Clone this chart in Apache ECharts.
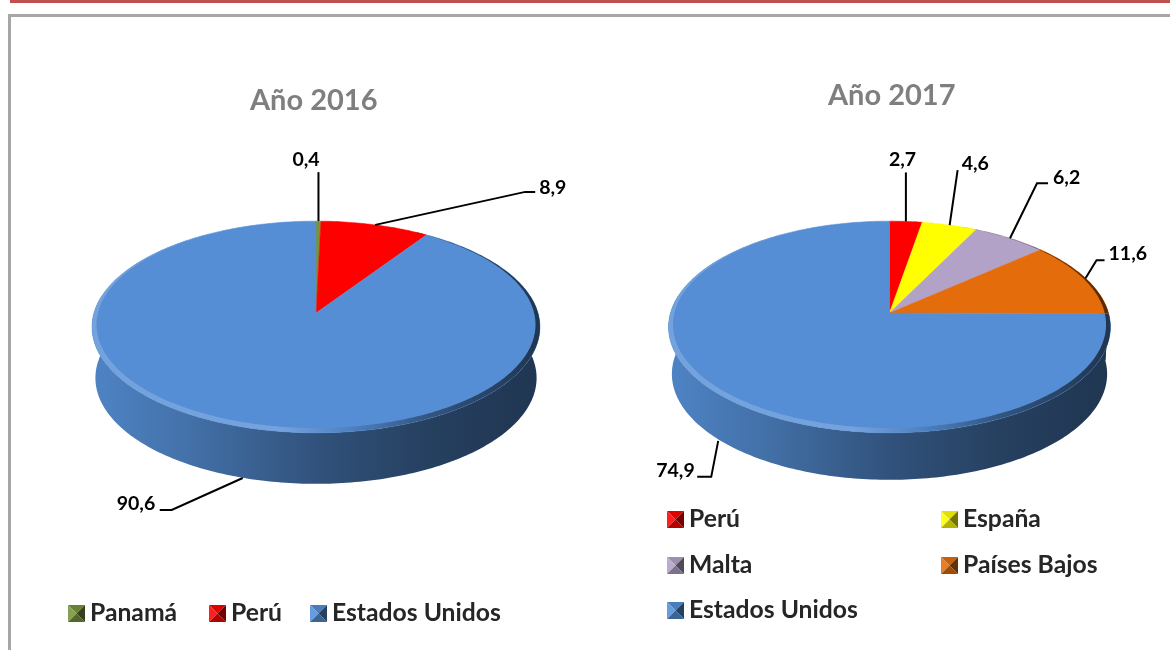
<!DOCTYPE html>
<html>
<head>
<meta charset="utf-8">
<title>Año 2016 / Año 2017</title>
<style>
html,body{margin:0;padding:0;background:#fff;}
#main{width:1170px;height:650px;}
</style>
<script src="https://cdn.jsdelivr.net/npm/echarts@6/dist/echarts.min.js"></script>
</head>
<body>
<div id="main"></div>
<script>
// data
var cats2016 = ['Panamá', 'Perú', 'Estados Unidos'];
var vals2016 = [0.4, 8.9, 90.6];
var cats2017 = ['Perú', 'España', 'Malta', 'Países Bajos', 'Estados Unidos'];
var vals2017 = [2.7, 4.6, 6.2, 11.6, 74.9];

var colors2016 = ['#77933C', '#FF0000', '#558ED5'];
var colors2017 = ['#FF0000', '#FFFF00', '#B3A2C7', '#E46C0A', '#558ED5'];

// pie geometry: apex of the slices, half width, perspective, wall height
var pie2016 = {cx: 316, cy: 313, a: 222, b: 104, p: 0.132, depth: 51};
var pie2017 = {cx: 889.5, cy: 313, a: 219, b: 104, p: 0.132, depth: 47};

// leader lines, relative to the point where each slice meets the rim
var leaders2016 = [
	{bends: [[0, -49]], text: [-26, -61]},
	{bends: [[150, -33], [160, -33]], text: [164, -37]},
	{bends: [[-71, 32], [-83, 32]], text: [-126, 26]}
];
var leaders2017 = [
	{bends: [[0, -49]], text: [-17, -62]},
	{bends: [[8, -55]], text: [12, -61]},
	{bends: [[27, -55], [38, -55]], text: [43, -61]},
	{bends: [[11, -18], [19, -18]], text: [23, -24]},
	{bends: [[-7, 36], [-21, 36]], text: [-62, 30]}
];

// legend entries: left, top
var legendPos2016 = [[68, 601], [209, 601], [310, 601]];
var legendPos2017 = [[667, 507], [941, 507], [667, 553], [941, 553], [667, 598]];

var FONT = 'Lato';

// k > 0 goes towards black, k < 0 towards white
function shade(hex, k) {
	var out = '#';
	for (var i = 1; i < 7; i += 2) {
		var c = parseInt(hex.substr(i, 2), 16);
		c = k > 0 ? c * (1 - k) : c + (255 - c) * -k;
		var s = Math.round(c).toString(16);
		out += s.length < 2 ? '0' + s : s;
	}
	return out;
}

// real angle on the disc -> point on screen
function project(pie, deg, r) {
	var t = deg * Math.PI / 180;
	var w = 1 + pie.p * Math.cos(t) * r;
	return [pie.cx + pie.a * Math.sin(t) * r / w, pie.cy - pie.b * Math.cos(t) * r / w];
}

function arcPoints(pie, from, to, fn) {
	var pts = [];
	var n = Math.max(2, Math.ceil(Math.abs(to - from)));
	for (var i = 0; i <= n; i++) {
		pts.push(fn(from + (to - from) * i / n));
	}
	return pts;
}

function xGradient(pie, stops) {
	return {
		type: 'linear', global: true,
		x: pie.cx - pie.a, y: 0, x2: pie.cx + pie.a, y2: 0,
		colorStops: stops
	};
}

function makeRender(pie, vals, idx, color, leader) {
	var total = 0, before = 0;
	for (var i = 0; i < vals.length; i++) {
		total += vals[i];
		if (i < idx) before += vals[i];
	}
	return function (params, api) {
		var from = before / total * 360;
		var to = from + api.value(0) / total * 360;
		var mid = (from + to) / 2;
		var children = [];

		// side wall, only on the front half
		var wFrom = Math.max(from, 80), wTo = Math.min(to, 280);
		if (wTo > wFrom) {
			var top = arcPoints(pie, wFrom, wTo, function (d) { return project(pie, d, 1); });
			var bottom = arcPoints(pie, wTo, wFrom, function (d) {
				var q = project(pie, d, 1);
				return [pie.cx + (q[0] - pie.cx) * 0.985, q[1] + pie.depth];
			});
			children.push({
				type: 'polygon',
				shape: {points: top.concat(bottom)},
				style: {fill: xGradient(pie, [
					{offset: 0, color: shade(color, 0.08)},
					{offset: 0.2, color: shade(color, 0.2)},
					{offset: 0.5, color: shade(color, 0.42)},
					{offset: 0.75, color: shade(color, 0.55)},
					{offset: 1, color: shade(color, 0.62)}
				])}
			});
		}

		// top face
		var face = arcPoints(pie, from, to, function (d) { return project(pie, d, 1); });
		face.push([pie.cx, pie.cy]);
		children.push({
			type: 'polygon',
			shape: {points: face},
			style: {fill: color, stroke: color, lineWidth: 0.5}
		});

		// bevel on the rim, thin at the back and wide at the front
		var outer = arcPoints(pie, from, to, function (d) { return project(pie, d, 1); });
		var inner = arcPoints(pie, to, from, function (d) {
			var w = 0.5 - 0.5 * Math.cos(d * Math.PI / 180);
			return project(pie, d, 1 - 0.035 * w);
		});
		children.push({
			type: 'polygon',
			shape: {points: outer.concat(inner)},
			style: {fill: xGradient(pie, [
				{offset: 0, color: shade(color, -0.18)},
				{offset: 0.42, color: shade(color, -0.18)},
				{offset: 0.58, color: shade(color, 0.1)},
				{offset: 0.75, color: shade(color, 0.4)},
				{offset: 1, color: shade(color, 0.62)}
			])}
		});

		// leader and value
		var anchor = project(pie, mid, 1);
		if (anchor[1] > pie.cy + 60) anchor = [anchor[0], anchor[1] + pie.depth];
		var line = [anchor];
		for (var j = 0; j < leader.bends.length; j++) {
			line.push([anchor[0] + leader.bends[j][0], anchor[1] + leader.bends[j][1]]);
		}
		children.push({
			type: 'polyline',
			shape: {points: line},
			style: {fill: 'none', stroke: '#000', lineWidth: 2}
		});
		children.push({
			type: 'text',
			style: {
				text: String(api.value(0)).replace('.', ','),
				x: anchor[0] + leader.text[0],
				y: anchor[1] + leader.text[1],
				fill: '#000',
				fontFamily: FONT,
				fontWeight: 'bold',
				fontSize: 19.5,
				align: 'left',
				verticalAlign: 'middle'
			}
		});
		return {type: 'group', children: children};
	};
}

function iconFor(color) {
	var svg = '<svg xmlns="http://www.w3.org/2000/svg" width="17" height="17">' +
		'<polygon points="0,0 17,0 8.5,8.5" fill="' + shade(color, 0.12) + '"/>' +
		'<polygon points="0,0 0,17 8.5,8.5" fill="' + shade(color, -0.12) + '"/>' +
		'<polygon points="17,0 17,17 8.5,8.5" fill="' + shade(color, 0.55) + '"/>' +
		'<polygon points="0,17 17,17 8.5,8.5" fill="' + shade(color, 0.3) + '"/>' +
		'</svg>';
	return 'image://data:image/svg+xml;charset=utf-8,' + encodeURIComponent(svg);
}

var series = [];
var legends = [];
function addPie(pie, cats, vals, colors, leaders, legendPos) {
	for (var i = 0; i < cats.length; i++) {
		series.push({
			type: 'custom',
			name: cats[i],
			coordinateSystem: 'none',
			silent: true,
			animation: false,
			clip: false,
			itemStyle: {color: colors[i]},
			data: [[vals[i]]],
			renderItem: makeRender(pie, vals, i, colors[i], leaders[i])
		});
		legends.push({
			left: legendPos[i][0],
			top: legendPos[i][1],
			padding: 0,
			selectedMode: false,
			itemWidth: 17,
			itemHeight: 17,
			textStyle: {color: '#262626', fontFamily: FONT, fontWeight: 'bold', fontSize: 24.7},
			data: [{name: cats[i], icon: iconFor(colors[i])}]
		});
	}
}
addPie(pie2016, cats2016, vals2016, colors2016, leaders2016, legendPos2016);
addPie(pie2017, cats2017, vals2017, colors2017, leaders2017, legendPos2017);

var myChart = echarts.init(document.getElementById('main'), null, {renderer: 'canvas'});
myChart.setOption({
	backgroundColor: '#fff',
	animation: false,
	tooltip: {show: false},
	title: [
		{text: 'Año 2016', left: 250, top: 86, padding: 0,
			textStyle: {color: '#7F7F7F', fontFamily: FONT, fontWeight: 'bold', fontSize: 29}},
		{text: 'Año 2017', left: 828, top: 81, padding: 0,
			textStyle: {color: '#7F7F7F', fontFamily: FONT, fontWeight: 'bold', fontSize: 29}}
	],
	legend: legends,
	graphic: [
		{type: 'rect', shape: {x: 10, y: 0, width: 1160, height: 3}, style: {fill: '#C0504D'}},
		{type: 'rect', shape: {x: 8, y: 14, width: 1162, height: 3}, style: {fill: '#A6A6A6'}},
		{type: 'rect', shape: {x: 8, y: 14, width: 3, height: 636}, style: {fill: '#A6A6A6'}}
	],
	series: series
});
</script>
</body>
</html>
